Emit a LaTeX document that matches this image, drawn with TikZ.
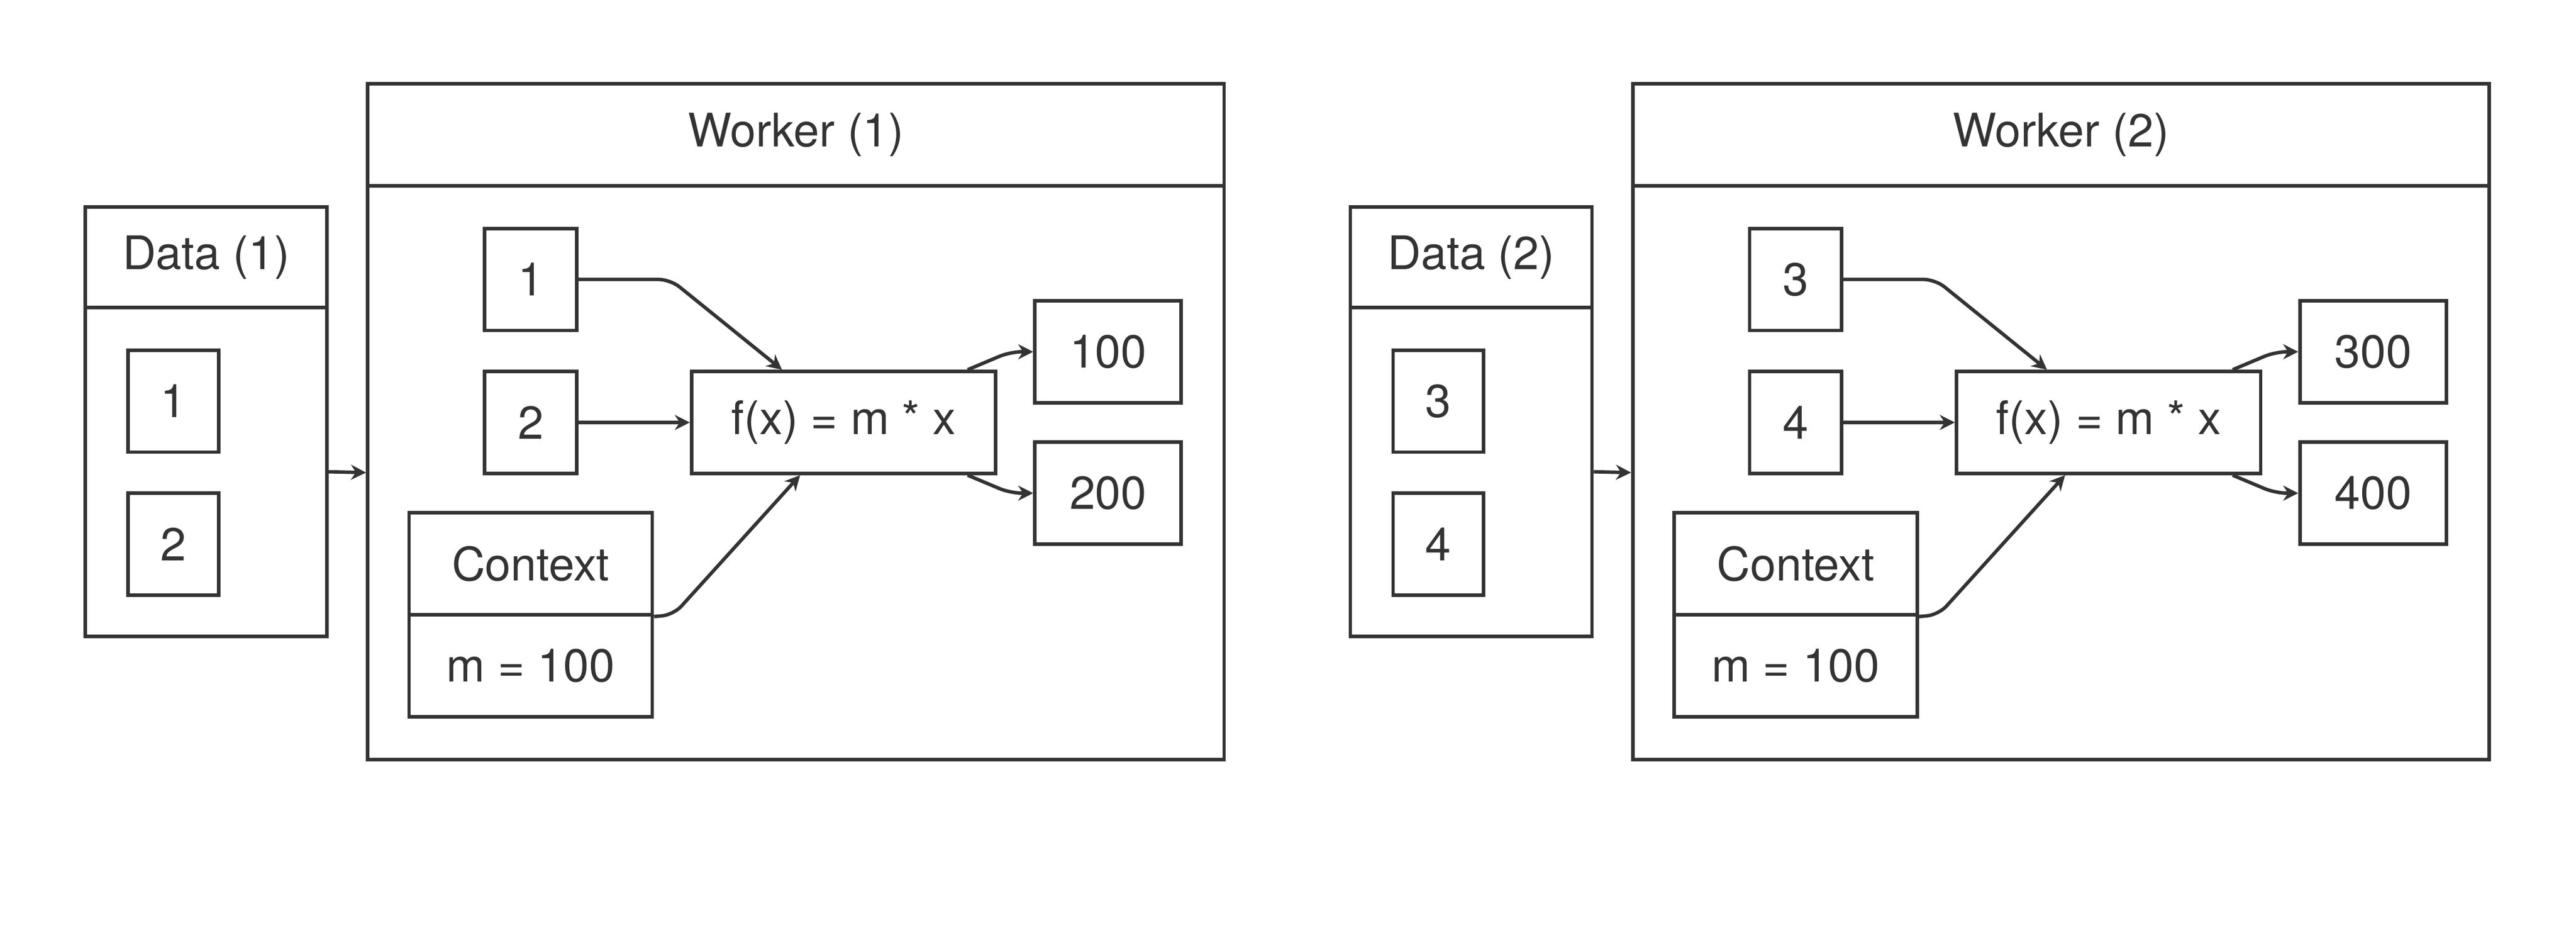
\documentclass[tikz,border=0pt]{standalone}
\usepackage{fontspec}
\setmainfont{TeX Gyre Heros}
\usetikzlibrary{arrows.meta,positioning}
\definecolor{ink}{rgb}{0.2,0.2,0.2}

\begin{document}
\begin{tikzpicture}[x=0.01cm,y=0.01cm,
    box/.style={draw=ink,line width=0.6pt,text=ink,inner sep=0pt,
      font=\fontsize{8}{10}\selectfont},
    link/.style={draw=ink,line width=0.6pt,-{Stealth[length=2.6pt,width=2.6pt]},rounded corners=2pt}]
  \useasboundingbox (0,0) rectangle (1568,-576);
  \foreach \g/\dx/\ia/\ib/\ra/\rb in {1/0/1/2/100/200,2/770/3/4/300/400}{
    \begin{scope}[shift={(\dx,0)}]
      % data column
      \node[box,minimum width=1.47cm,minimum height=0.61cm] (dhead\g) at (125.5,-156.5) {Data (\g)};
      \node[box,minimum width=1.47cm,minimum height=2cm] (dbody\g) at (125.5,-287) {};
      \node[box,minimum width=0.55cm,minimum height=0.62cm] (da\g) at (105.5,-244) {\ia};
      \node[box,minimum width=0.55cm,minimum height=0.62cm] (db\g) at (105.5,-331) {\ib};
      % worker
      \node[box,minimum width=5.21cm,minimum height=0.62cm] (whead\g) at (484.5,-82) {Worker (\g)};
      \node[box,minimum width=5.21cm,minimum height=3.49cm] (wbody\g) at (484.5,-287.5) {};
      \node[box,minimum width=0.56cm,minimum height=0.62cm] (in1\g) at (323,-170) {\ia};
      \node[box,minimum width=0.56cm,minimum height=0.62cm] (in2\g) at (323,-257) {\ib};
      \node[box,minimum width=1.48cm,minimum height=0.62cm] (chead\g) at (323,-343) {Context};
      \node[box,minimum width=1.48cm,minimum height=0.62cm] (cbody\g) at (323,-405) {m = 100};
      \node[box,minimum width=1.85cm,minimum height=0.62cm] (fx\g) at (513.5,-257) {f(x) = m * x};
      \node[box,minimum width=0.89cm,minimum height=0.62cm] (ra\g) at (674.5,-214) {\ra};
      \node[box,minimum width=0.89cm,minimum height=0.62cm] (rb\g) at (674.5,-300) {\rb};
      % connectors
      \draw[link] (dbody\g.east) -- (wbody\g.west);
      \draw[link] (in1\g.east) -- (408,-170) -- (fx\g.north -| 476,0);
      \draw[link] (in2\g.east) -- (fx\g.west);
      \draw[link] (chead\g.south east) -- (410,-374) -- (fx\g.south -| 487,0);
      \draw[link] (fx\g.north -| 589,0) -- (615,-214) -- (ra\g.west);
      \draw[link] (fx\g.south -| 589,0) -- (615,-300) -- (rb\g.west);
    \end{scope}
  }
\end{tikzpicture}
\end{document}
